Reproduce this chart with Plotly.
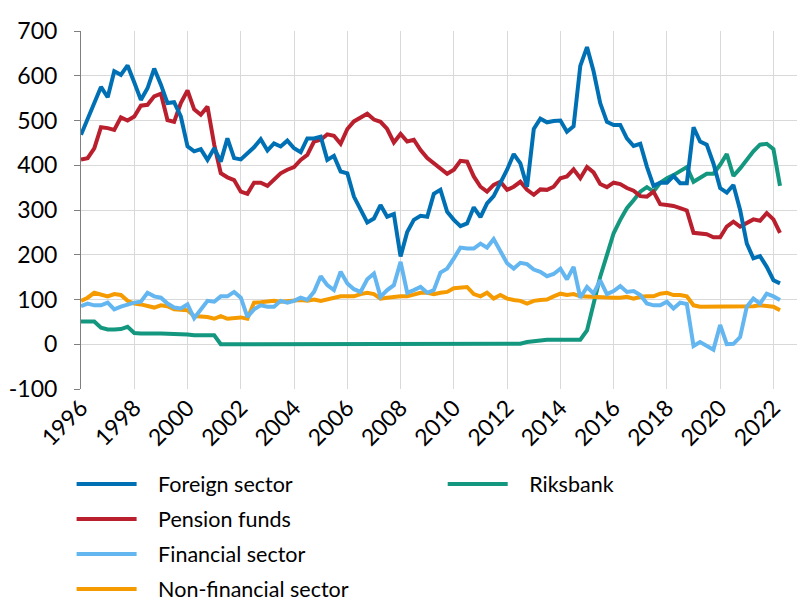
import pandas as pd
import plotly.graph_objects as go

start_quarter = "1996-01-01"
n_quarters = 106

foreign_sector = [468, 505, 543, 575, 552, 610, 602, 623, 585, 546, 572, 616, 580, 539, 541, 509,
                  442, 431, 436, 412, 438, 408, 460, 416, 413, 427, 440, 458, 433, 449, 442, 455,
                  438, 429, 460, 460, 464, 412, 421, 386, 382, 330, 300, 272, 281, 311, 285, 291,
                  196, 251, 278, 287, 285, 336, 345, 296, 278, 264, 270, 306, 284, 315, 331, 361,
                  390, 425, 404, 352, 481, 504, 496, 499, 500, 475, 487, 622, 664, 610, 539, 497,
                  490, 490, 460, 443, 448, 397, 354, 361, 361, 376, 360, 360, 485, 453, 446, 404,
                  349, 339, 356, 300, 225, 192, 197, 173, 143, 136]

pension_funds = [413, 416, 438, 485, 483, 479, 507, 500, 509, 533, 535, 554, 560, 501, 497, 539,
                 567, 525, 513, 531, 446, 382, 373, 367, 341, 336, 361, 361, 354, 367, 382, 390,
                 396, 412, 423, 453, 457, 469, 466, 448, 481, 498, 507, 515, 502, 497, 481, 451,
                 470, 453, 457, 434, 416, 404, 393, 381, 390, 410, 408, 375, 352, 341, 356, 363,
                 345, 352, 363, 345, 334, 346, 345, 352, 371, 375, 391, 371, 396, 384, 358, 351,
                 361, 358, 349, 343, 331, 330, 341, 313, 311, 309, 304, 299, 249, 248, 246, 239,
                 239, 263, 274, 263, 270, 279, 276, 293, 279, 249]

financial_sector = [85, 91, 87, 87, 93, 78, 84, 89, 93, 95, 115, 107, 104, 91, 82, 80,
                    89, 58, 76, 97, 95, 107, 107, 117, 104, 61, 78, 87, 84, 84, 97, 93,
                    97, 104, 99, 117, 152, 132, 121, 162, 136, 123, 117, 145, 158, 106, 121, 132,
                    184, 115, 121, 128, 115, 121, 160, 169, 192, 216, 214, 214, 225, 216, 235, 210,
                    181, 169, 182, 179, 167, 162, 152, 157, 169, 145, 173, 104, 128, 113, 143, 112,
                    119, 130, 117, 119, 110, 91, 87, 87, 95, 80, 93, 90, -4, 5, -4, -12,
                    43, 0, 1, 16, 84, 102, 91, 113, 107, 99]

non_financial_sector = [97, 104, 115, 112, 107, 112, 110, 97, 91, 89, 85, 82, 87, 85, 78, 76,
                        76, 63, 63, 61, 57, 63, 57, 59, 60, 57, 93, 94, 95, 97, 95, 97,
                        97, 99, 97, 100, 97, 101, 104, 107, 107, 107, 112, 115, 112, 102, 104, 106,
                        107, 107, 110, 115, 115, 112, 115, 117, 125, 126, 128, 112, 107, 115, 102, 110,
                        102, 99, 97, 91, 97, 99, 100, 107, 113, 110, 112, 107, 106, 106, 104, 104,
                        104, 104, 106, 102, 106, 107, 107, 113, 115, 110, 110, 107, 87, 84, 84, 84,
                        84, 84, 84, 85, 84, 85, 87, 85, 84, 76]

riksbank = [51, 51, 51, 37, 33, 33, 34, 39, 25, 24, 25, 24, 24, 24, 22, 22,
            22, 20, 20, 22, 20, 0, 0, 0, 0, 0, 0, 0, 0, 0, 0, 0,
            0, 0, 0, 0, 0, 0, 0, 0, 0, 0, 0, 0, 0, 0, 0, 0,
            0, 0, 0, 0, 0, 0, 0, 0, 0, 0, 0, 0, 0, 0, 0, 0,
            0, 0, 1, 5, 7, 9, 10, 10, 10, 10, 10, 10, 31, 93, 151, 199,
            248, 278, 304, 322, 341, 351, 341, 361, 371, 378, 386, 396, 363, 371, 381, 381,
            401, 425, 376, 393, 413, 431, 446, 448, 436, 354]

year_ticks = ["1996", "1998", "2000", "2002", "2004", "2006", "2008", "2010",
              "2012", "2014", "2016", "2018", "2020", "2022"]
y_ticks = [-100, 0, 100, 200, 300, 400, 500, 600, 700]
y_tick_labels = ["-100", "0", "100", "200", "300", "400", "500", "600", "700"]

dates = pd.date_range(start_quarter, periods=n_quarters, freq="QS")

FONT = "Lato"
PAD = "\u00a0" * 3
series = [
    ("Foreign sector", foreign_sector, "#0070B5", "legend"),
    ("Pension funds", pension_funds, "#BA1F2E", "legend"),
    ("Financial sector", financial_sector, "#63B6F0", "legend"),
    ("Non-financial sector", non_financial_sector, "#F59B00", "legend"),
    ("Riksbank", riksbank, "#14977F", "legend2"),
]

fig = go.Figure()
for rank, (name, vals, col, lg) in reversed(list(enumerate(series))):
    fig.add_trace(go.Scatter(x=dates, y=vals, mode="lines", name=PAD + name,
                             line=dict(color=col, width=4), legend=lg,
                             legendgroup=name, legendrank=rank + 1))

grid = "#D9D9D9"
tickfont = dict(family=FONT, size=23, color="#000000")
legfont = dict(family=FONT, size=21.5, color="#000000")
fig.update_layout(
    width=805, height=605,
    margin=dict(l=73, r=5, t=23, b=224, autoexpand=False),
    plot_bgcolor="white", paper_bgcolor="white",
    font=dict(family=FONT, size=22, color="#000000"),
    showlegend=True,
    xaxis=dict(
        type="date",
        range=["1996-01-01", "2023-04-20"],
        tickvals=[pd.Timestamp(y + "-01-01") for y in year_ticks],
        ticktext=year_ticks,
        tickangle=-45,
        showgrid=True, gridcolor=grid, gridwidth=1,
        showline=False, ticks="", zeroline=False,
        tickfont=tickfont,
    ),
    yaxis=dict(
        range=[-100, 700],
        tickvals=y_ticks, ticktext=y_tick_labels,
        showgrid=True, gridcolor=grid, gridwidth=1,
        showline=True, linecolor="#7F7F7F", linewidth=1,
        ticks="outside", ticklen=6, tickcolor="#7F7F7F",
        ticklabelstandoff=12,
        zeroline=False,
        tickfont=tickfont,
    ),
    legend=dict(
        xref="container", yref="container",
        x=0.079, y=0.247, xanchor="left", yanchor="top",
        orientation="v", traceorder="grouped",
        font=legfont,
        itemwidth=60, tracegroupgap=4, bgcolor="rgba(0,0,0,0)",
    ),
    legend2=dict(
        xref="container", yref="container",
        x=0.54, y=0.247, xanchor="left", yanchor="top",
        orientation="v",
        font=legfont,
        itemwidth=60, bgcolor="rgba(0,0,0,0)",
    ),
)

fig.write_html("out.html")
